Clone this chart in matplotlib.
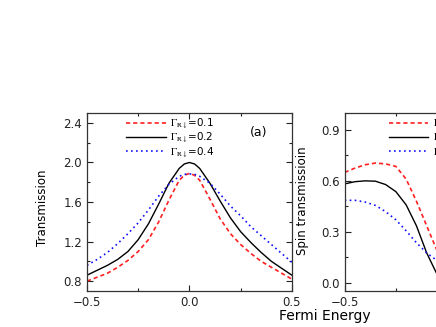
import matplotlib
matplotlib.use('Agg')
import matplotlib.pyplot as plt
from matplotlib.ticker import MultipleLocator

plt.rcParams['font.family'] = ['DejaVu Sans']
plt.rcParams['mathtext.fontset'] = 'stix'

# panel (a): total transmission vs Fermi energy
energy = [-0.5, -0.45, -0.4, -0.35, -0.3, -0.25, -0.2, -0.15, -0.1, -0.05, -0.025,
          0.0, 0.025, 0.05, 0.1, 0.15, 0.2, 0.25, 0.3, 0.35, 0.4, 0.45, 0.5]
trans_01 = [0.80, 0.84, 0.88, 0.94, 1.01, 1.10, 1.22, 1.40, 1.62, 1.82, 1.87,
            1.89, 1.87, 1.82, 1.63, 1.43, 1.28, 1.17, 1.08, 1.00, 0.94, 0.88, 0.82]
trans_02 = [0.86, 0.91, 0.96, 1.02, 1.10, 1.22, 1.38, 1.58, 1.79, 1.94, 1.985,
            2.00, 1.985, 1.94, 1.79, 1.61, 1.44, 1.30, 1.19, 1.09, 1.00, 0.93, 0.86]
trans_04 = [0.96, 1.02, 1.09, 1.18, 1.28, 1.39, 1.52, 1.66, 1.78, 1.86, 1.88,
            1.885, 1.88, 1.86, 1.79, 1.68, 1.56, 1.46, 1.35, 1.26, 1.17, 1.08, 0.99]

# panel (b): spin transmission, only the left part is visible
energy_b = [-0.5, -0.45, -0.4, -0.35, -0.3, -0.25, -0.2, -0.15, -0.1, -0.05, 0.0]
spin_01 = [0.65, 0.675, 0.695, 0.705, 0.70, 0.685, 0.61, 0.48, 0.335, 0.19, 0.06]
spin_02 = [0.582, 0.595, 0.60, 0.598, 0.578, 0.536, 0.458, 0.335, 0.175, 0.05, -0.05]
spin_04 = [0.485, 0.485, 0.475, 0.455, 0.418, 0.37, 0.305, 0.235, 0.175, 0.13, 0.09]

labels = [r'$\Gamma_{\mathrm{R}\downarrow}$=0.1',
          r'$\Gamma_{\mathrm{R}\downarrow}$=0.2',
          r'$\Gamma_{\mathrm{R}\downarrow}$=0.4']


def style_axis(ax):
    ax.tick_params(which='both', direction='in', top=True, right=True,
                   labelsize=8.5, colors='#222222', pad=3.5)
    ax.tick_params(which='major', length=4, width=0.8)
    ax.tick_params(which='minor', length=2.5, width=0.8)
    for sp in ax.spines.values():
        sp.set_linewidth(0.9)
        sp.set_color('#333333')


def add_legend(ax, x0):
    ax.legend(loc='upper left', bbox_to_anchor=(x0, 0.99), frameon=False,
              fontsize=7.5, handlelength=3.8, handletextpad=0.4,
              labelspacing=0.02, borderpad=0.2, borderaxespad=0)


fig = plt.figure(figsize=(4.36, 3.27), dpi=100)

ax1 = fig.add_axes([0.1995, 0.110, 0.470, 0.5443])
ax1.plot(energy, trans_01, color='#ff2020', lw=1.2, dashes=[2.5, 1.8], label=labels[0])
ax1.plot(energy, trans_02, color='black', lw=1.0, label=labels[1])
ax1.plot(energy, trans_04, color='#1010ff', lw=1.2, ls=(0, (1, 2)), label=labels[2])
ax1.set_xlim(-0.5, 0.5)
ax1.set_ylim(0.7, 2.5)
ax1.xaxis.set_major_locator(MultipleLocator(0.5))
ax1.xaxis.set_minor_locator(MultipleLocator(0.25))
ax1.yaxis.set_major_locator(MultipleLocator(0.4))
ax1.yaxis.set_minor_locator(MultipleLocator(0.2))
style_axis(ax1)
ax1.set_ylabel('Transmission', fontsize=8.5)
ax1.yaxis.set_label_coords(-0.185, 0.466)
ax1.text(0.337, 2.30, '(a)', fontsize=9, ha='center', va='center')
add_legend(ax1, 0.18)

ax2 = fig.add_axes([0.7906, 0.110, 0.470, 0.5443])
ax2.plot(energy_b, spin_01, color='#ff2020', lw=1.2, dashes=[2.5, 1.8], label=labels[0])
ax2.plot(energy_b, spin_02, color='black', lw=1.0, label=labels[1])
ax2.plot(energy_b, spin_04, color='#1010ff', lw=1.2, ls=(0, (1, 2)), label=labels[2])
ax2.set_xlim(-0.5, 0.5)
ax2.set_ylim(-0.05, 1.0)
ax2.xaxis.set_major_locator(MultipleLocator(0.5))
ax2.xaxis.set_minor_locator(MultipleLocator(0.25))
ax2.yaxis.set_major_locator(MultipleLocator(0.3))
ax2.yaxis.set_minor_locator(MultipleLocator(0.15))
style_axis(ax2)
ax2.set_ylabel('Spin transmissioin', fontsize=8.5)
ax2.yaxis.set_label_coords(-0.175, 0.51)
add_legend(ax2, 0.205)

fig.text(0.745, 0.034, 'Fermi Energy', fontsize=10, ha='center', va='center')

fig.savefig('out.png', dpi=100)
